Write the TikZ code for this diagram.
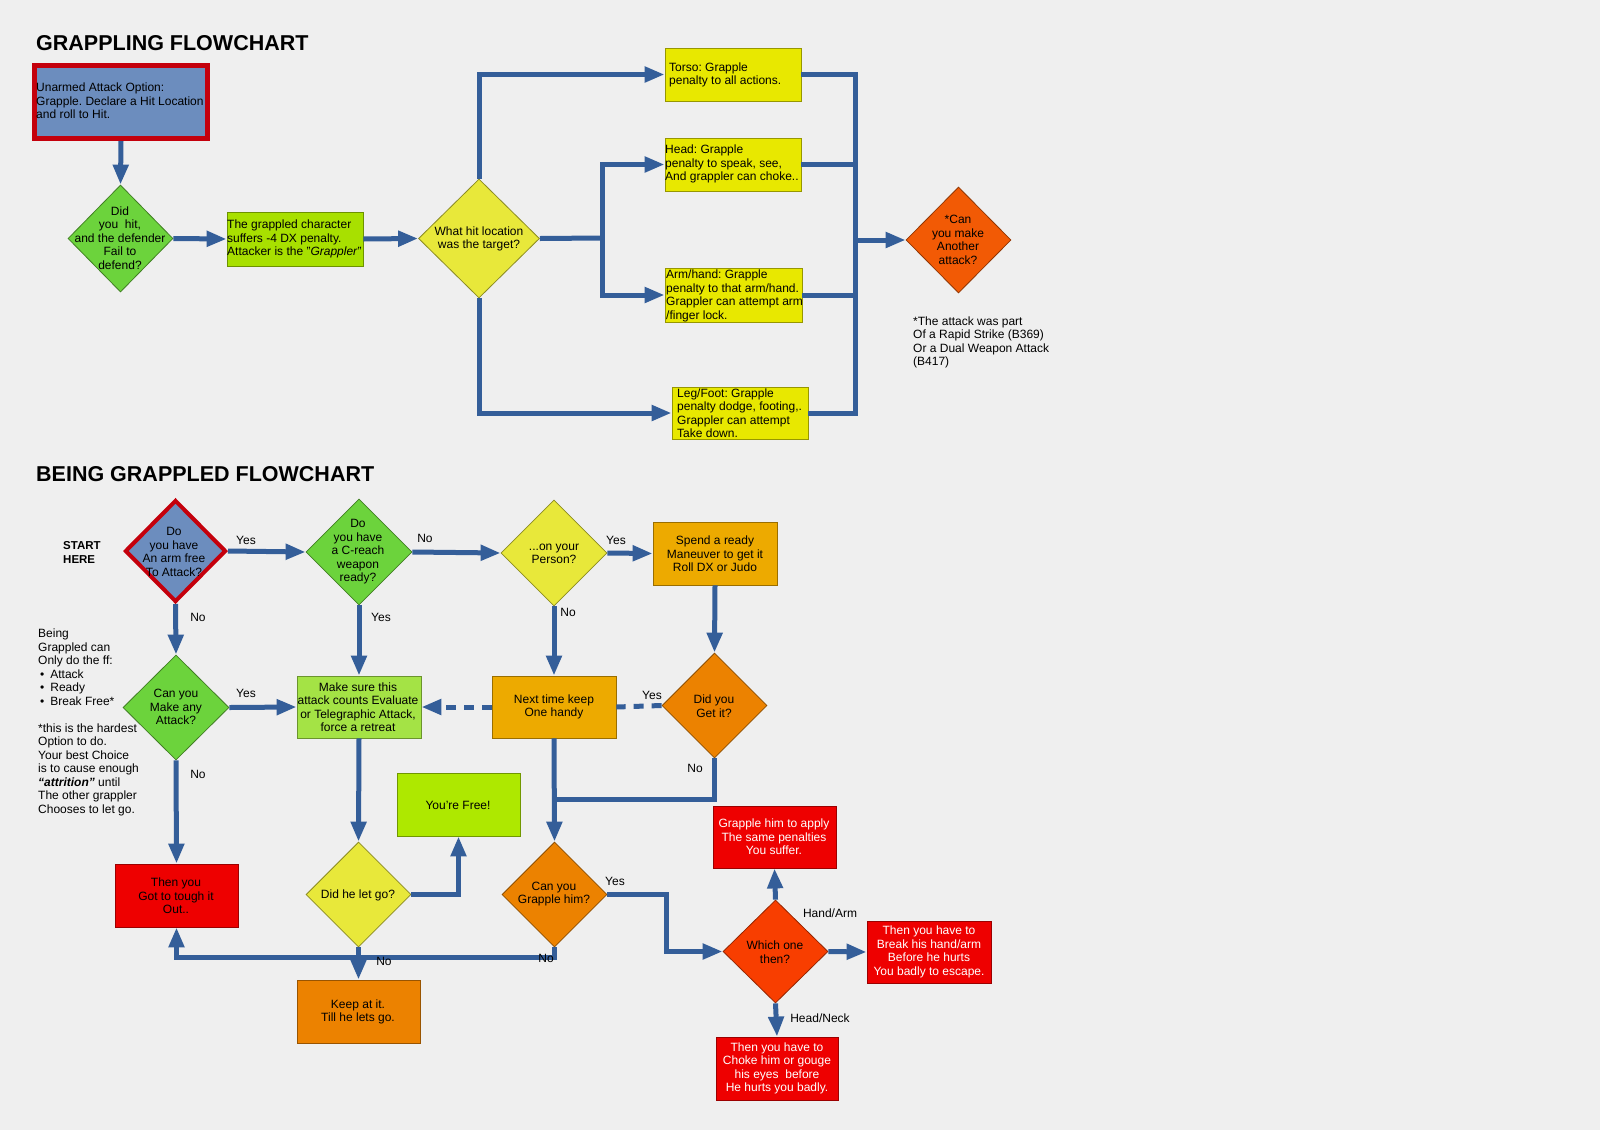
\documentclass[tikz,border=0pt]{standalone}
\usepackage{fontspec}
\setmainfont{Liberation Sans}
\frenchspacing
\usetikzlibrary{arrows.meta,shapes.geometric}
\definecolor{bgc}{HTML}{EFEFEF}
\definecolor{lineblue}{HTML}{345E99}
\definecolor{startblue}{HTML}{6C8DBE}
\definecolor{startred}{HTML}{C4000C}
\definecolor{greendia}{HTML}{6CD33C}
\definecolor{ygreen}{HTML}{A8E000}
\definecolor{lgreen}{HTML}{A4E345}
\definecolor{freegreen}{HTML}{AEE800}
\definecolor{ybox}{HTML}{E8E800}
\definecolor{ydia}{HTML}{E8E83A}
\definecolor{gold}{HTML}{EDAA00}
\definecolor{orangedia}{HTML}{EC8200}
\definecolor{redorange}{HTML}{F25A05}
\definecolor{whichred}{HTML}{F83E00}
\definecolor{redbox}{HTML}{EE0000}
\begin{document}
\begin{tikzpicture}[x=1pt,y=-1pt,
  bx/.style={rectangle, inner sep=0pt, line width=0.8pt, draw=#1!65!black, fill=#1},
  dia/.style={diamond, inner sep=0pt, line width=0.8pt, draw=#1!60!black, fill=#1},
  txt/.style={inner sep=0pt, font=\fontsize{12}{13.5}\selectfont, align=center},
  ltxt/.style={txt, align=left, anchor=west},
  wtxt/.style={txt, text=white},
  ttl/.style={inner sep=0pt, anchor=west, font=\fontsize{21.5}{24}\selectfont\bfseries},
  flow/.style={line width=5pt, draw=lineblue},
  arr/.style={flow, -{Triangle[length=20pt,width=15pt]}},
  dashflow/.style={flow, dash pattern=on 10pt off 8pt},
  lbl/.style={txt}
]
\fill[bgc] (0,0) rectangle (1600,1130);
\useasboundingbox (0,0) rectangle (1600,1130);

% ---------------- GRAPPLING FLOWCHART ----------------
\node[ttl] (t1) at (36,43) {GRAPPLING FLOWCHART};

\node[rectangle, inner sep=0pt, fill=startblue, draw=startred, line width=5pt,
      minimum width=173pt, minimum height=73pt] (sbox) at (121,102) {};
\node[ltxt] (sboxt) at (36,101) {Unarmed Attack Option:\\Grapple. Declare a Hit Location\\and roll to Hit.};

\node[dia=greendia, minimum width=105pt, minimum height=107pt] (d1) at (120.5,238.5) {};
\node[txt] (d1t) at (120,238) {Did\\you\ \ hit,\\and the defender\\Fail to\\defend?};

\node[bx=ygreen, minimum width=136pt, minimum height=54pt] (g1) at (295,239) {};
\node[ltxt] (g1t) at (227,239) {The grappled character\\suffers -4 DX penalty.\\Attacker is the "\textit{Grappler}"};

\node[dia=ydia, minimum width=121pt, minimum height=119pt] (d2) at (479,238.5) {};
\node[txt] (d2t) at (479,239) {What hit location\\was the target?};

\node[bx=ybox, minimum width=136pt, minimum height=53pt] (torso) at (733,74.5) {};
\node[ltxt] (torsot) at (669,75) {Torso: Grapple\\penalty to all actions.};
\node[bx=ybox, minimum width=136pt, minimum height=53pt] (head) at (733,164.5) {};
\node[ltxt] (headt) at (665,164) {Head: Grapple\\penalty to speak, see,\\And grappler can choke..};
\node[bx=ybox, minimum width=137pt, minimum height=54pt] (arm) at (733.5,295) {};
\node[ltxt] (armt) at (666,296) {Arm/hand: Grapple\\penalty to that arm/hand.\\Grappler can attempt arm\\/finger lock.};
\node[bx=ybox, minimum width=136pt, minimum height=52pt] (leg) at (740,413) {};
\node[ltxt] (legt) at (677,413) {Leg/Foot: Grapple\\penalty dodge, footing,.\\Grappler can attempt\\Take down.};

\node[dia=redorange, minimum width=105pt, minimum height=106pt] (d3) at (958.5,240) {};
\node[txt] (d3t) at (958,240) {*Can\\you make\\Another\\attack?};
\node[ltxt] (note1) at (913,342.5) {*The attack was part\\Of a Rapid Strike (B369)\\Or a Dual Weapon Attack\\(B417)};

\coordinate (j1) at (602,238);
\coordinate (j2) at (855,240);

\draw[arr] (sbox.south) -- (d1.north);
\draw[arr] (d1.east) -- (g1.west);
\draw[arr] (g1.east) -- (d2.west);
\draw[arr] (d2.north) |- (torso.west);
\draw[flow] (d2.east) -- (j1);
\draw[arr] (j1) |- (head.west);
\draw[arr] (j1) |- (arm.west);
\draw[arr] (d2.south) |- (leg.west);
\draw[flow] (torso.east) -| (j2);
\draw[flow] (head.east) -- (head.east -| j2);
\draw[flow] (arm.east) -- (arm.east -| j2);
\draw[flow] (leg.east) -| (j2);
\draw[arr] (j2) -- (d3.west);

% ---------------- BEING GRAPPLED FLOWCHART ----------------
\node[ttl] (t2) at (36,474) {BEING GRAPPLED FLOWCHART};
\node[txt, align=left, anchor=west, font=\fontsize{11.5}{14}\selectfont\bfseries] (start) at (63,552) {START\\HERE};

\node[diamond, inner sep=0pt, fill=startblue, draw=startred, line width=4pt,
      minimum width=101pt, minimum height=102pt] (s2) at (175.5,551) {};
\node[txt] (s2t) at (174,552) {Do\\you have\\An arm free\\To Attack?};

\node[dia=greendia, minimum width=106pt, minimum height=106pt] (c1) at (359,552) {};
\node[txt] (c1t) at (358,552) {Do\\you have\\a C-reach\\weapon\\ready?};

\node[dia=ydia, minimum width=106pt, minimum height=106pt] (p1) at (554,553) {};
\node[txt] (p1t) at (554,554) {...on your\\Person?};

\node[bx=gold, minimum width=124pt, minimum height=63pt] (spend) at (715,553.5) {};
\node[txt] (spendt) at (715,554) {Spend a ready\\Maneuver to get it\\Roll DX or Judo};

\node[dia=greendia, minimum width=106pt, minimum height=105pt] (m1) at (176,707.5) {};
\node[txt] (m1t) at (176,707) {Can you\\Make any\\Attack?};

\node[bx=lgreen, minimum width=124pt, minimum height=62pt] (ms) at (359,707) {};
\node[txt] (mst) at (358,707) {Make sure this\\attack counts Evaluate\\or Telegraphic Attack,\\force a retreat};

\node[bx=gold, minimum width=124pt, minimum height=62pt] (nt) at (554,707) {};
\node[txt] (ntt) at (554,707) {Next time keep\\One handy};

\node[dia=orangedia, minimum width=105pt, minimum height=105pt] (g2) at (714.5,705.5) {};
\node[txt] (g2t) at (714,706) {Did you\\Get it?};

\node[ltxt, anchor=west] (note2) at (38,722.5) {Being\\Grappled can\\Only do the ff:\\\hspace*{2pt}•\hspace{6pt}Attack\\\hspace*{2pt}•\hspace{6pt}Ready\\\hspace*{2pt}•\hspace{6pt}Break Free*\\[13.5pt]*this is the hardest\\Option to do.\\Your best Choice\\is to cause enough\\\textbf{\textit{“attrition”}} until\\The other grappler\\Chooses to let go.};

\node[bx=freegreen, minimum width=123pt, minimum height=63pt] (yf) at (458.5,804.5) {};
\node[txt] (yft) at (458,805) {You're Free!};

\node[dia=ydia, minimum width=105pt, minimum height=105pt] (dh) at (358.5,894.5) {};
\node[txt] (dht) at (358,895) {Did he let go?};

\node[bx=redbox, minimum width=123pt, minimum height=63pt] (ty) at (176.5,895.5) {};
\node[txt] (tyt) at (176,896) {Then you\\Got to tough it\\Out..};

\node[dia=orangedia, minimum width=105pt, minimum height=105pt] (cg) at (554.5,894.5) {};
\node[txt] (cgt) at (554,894) {Can you\\Grapple him?};

\node[bx=orangedia, minimum width=123pt, minimum height=63pt] (kp) at (358.5,1011.5) {};
\node[txt] (kpt) at (358,1012) {Keep at it.\\Till he lets go.};

\node[bx=redbox, minimum width=123pt, minimum height=62pt] (gh) at (774.5,837) {};
\node[wtxt] (ght) at (774,837) {Grapple him to apply\\The same penalties\\You suffer.};

\node[dia=whichred, minimum width=105pt, minimum height=103pt] (wh) at (775.5,951.5) {};
\node[txt] (wht) at (775,952) {Which one\\then?};

\node[bx=redbox, minimum width=124pt, minimum height=62pt] (br) at (929,952) {};
\node[wtxt] (brt) at (929,952) {Then you have to\\Break his hand/arm\\Before he hurts\\You badly to escape.};

\node[bx=redbox, minimum width=122pt, minimum height=63pt] (ch) at (777,1068.5) {};
\node[wtxt] (cht) at (777,1068.5) {Then you have to\\Choke him or gouge\\his eyes\ \ before\\He hurts you badly.};

% connectors
\coordinate (jn) at (554,799);
\draw[arr] (s2.east) -- (c1.west);
\draw[arr] (c1.east) -- (p1.west);
\draw[arr] (p1.east) -- (spend.west);
\draw[arr] (s2.south) -- (m1.north);
\draw[arr] (c1.south) -- (ms.north);
\draw[arr] (m1.east) -- (ms.west);
\draw[arr] (p1.south) -- (nt.north);
\draw[arr] (spend.south) -- (g2.north);
\draw[dashflow] (g2.west) -- (nt.east);
\draw[dashflow, -{Triangle[length=20pt,width=15pt]}] (nt.west) -- (ms.east);
\draw[arr] (nt.south) -- (cg.north);
\draw[flow] (g2.south) |- (jn);
\draw[arr] (m1.south) -- (ty.north);
\draw[arr] (ms.south) -- (dh.north);
\draw[arr] (dh.east) -| (yf.south);
\draw[arr] (cg.south) -- ++(0,10) -| (ty.south);
\draw[arr] (dh.south) -- (kp.north);
\draw[arr] (cg.east) -- ++(59,0) |- (wh.west);
\draw[arr] (wh.north) -- (gh.south);
\draw[arr] (wh.east) -- (br.west);
\draw[arr] (wh.south) -- (ch.north);

% labels
\node[lbl] (l1) at (246,540) {Yes};
\node[lbl] (l2) at (425,538) {No};
\node[lbl] (l3) at (198,617) {No};
\node[lbl] (l4) at (381,617) {Yes};
\node[lbl] (l5) at (246,693) {Yes};
\node[lbl] (l6) at (198,774) {No};
\node[lbl] (l7) at (616,540) {Yes};
\node[lbl] (l8) at (568,612) {No};
\node[lbl] (l9) at (652,695) {Yes};
\node[lbl] (l10) at (695,768) {No};
\node[lbl] (l11) at (615,881) {Yes};
\node[lbl] (l12) at (384,961) {No};
\node[lbl] (l13) at (546,958) {No};
\node[lbl] (l14) at (830,913) {Hand/Arm};
\node[lbl] (l15) at (820,1018) {Head/Neck};
\end{tikzpicture}
\end{document}
